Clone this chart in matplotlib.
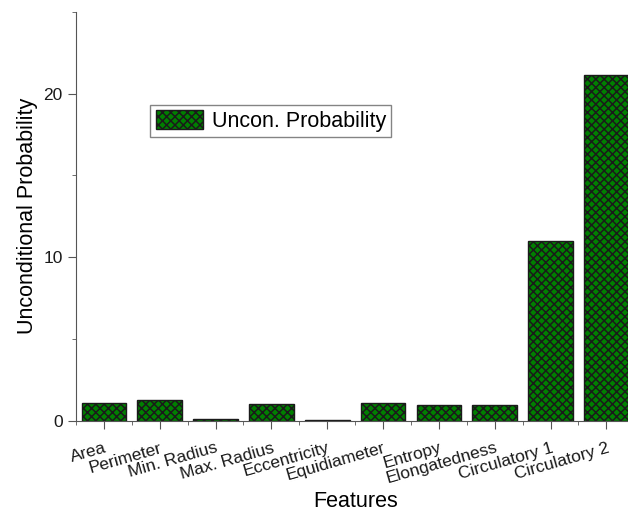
import matplotlib
matplotlib.use('Agg')
import matplotlib.pyplot as plt
from matplotlib.ticker import MultipleLocator

# признаки и безусловные вероятности
features = ['Area', 'Perimeter', 'Min. Radius', 'Max. Radius', 'Eccentricity',
            'Equidiameter', 'Entropy', 'Elongatedness', 'Circulatory 1', 'Circulatory 2']
uncon_prob = [1.07, 1.28, 0.14, 1.01, 0.08, 1.08, 0.97, 0.96, 10.97, 21.15]

plt.rcParams['font.family'] = ['Liberation Sans', 'DejaVu Sans']
plt.rcParams['hatch.linewidth'] = 1.1
plt.rcParams['hatch.color'] = 'black'

fig = plt.figure(figsize=(6.28, 5.12), dpi=100)
ax = fig.add_axes([0.121, 0.178, 0.889, 0.799])

x = list(range(1, len(features) + 1))
ax.bar(x, uncon_prob, width=0.8, color='#008000', edgecolor='#1a1a1a',
       linewidth=1.0, hatch='xxxx', label='Uncon. Probability')

ax.set_xlim(0.5, 10.5)
ax.set_ylim(0, 25)
ax.set_xticks(x)
ax.set_xticklabels(features, rotation=16, ha='right', rotation_mode='anchor', fontsize=12.5)
ax.xaxis.set_minor_locator(MultipleLocator(1, offset=0.5))
ax.yaxis.set_major_locator(MultipleLocator(10))
ax.yaxis.set_minor_locator(MultipleLocator(5))

for side in ['top', 'right']:
    ax.spines[side].set_visible(False)
for side in ['left', 'bottom']:
    ax.spines[side].set_color('#555555')
ax.tick_params(which='major', length=6, color='#555555', labelsize=12.5, labelcolor='#1a1a1a')
ax.tick_params(which='minor', length=3, color='#555555')
ax.tick_params(axis='x', which='major', pad=8)

ax.set_xlabel('Features', fontsize=15.5, labelpad=3)
ax.set_ylabel('Unconditional Probability', fontsize=15.5)

leg = ax.legend(loc='upper left', bbox_to_anchor=(0.133, 0.773), borderaxespad=0,
                fontsize=15.5, fancybox=False, handlelength=2.2, handleheight=1.0,
                handletextpad=0.4, borderpad=0.25)
leg.get_frame().set_edgecolor('#666666')
leg.get_frame().set_linewidth(1.0)

plt.savefig('out.png', dpi=100)
